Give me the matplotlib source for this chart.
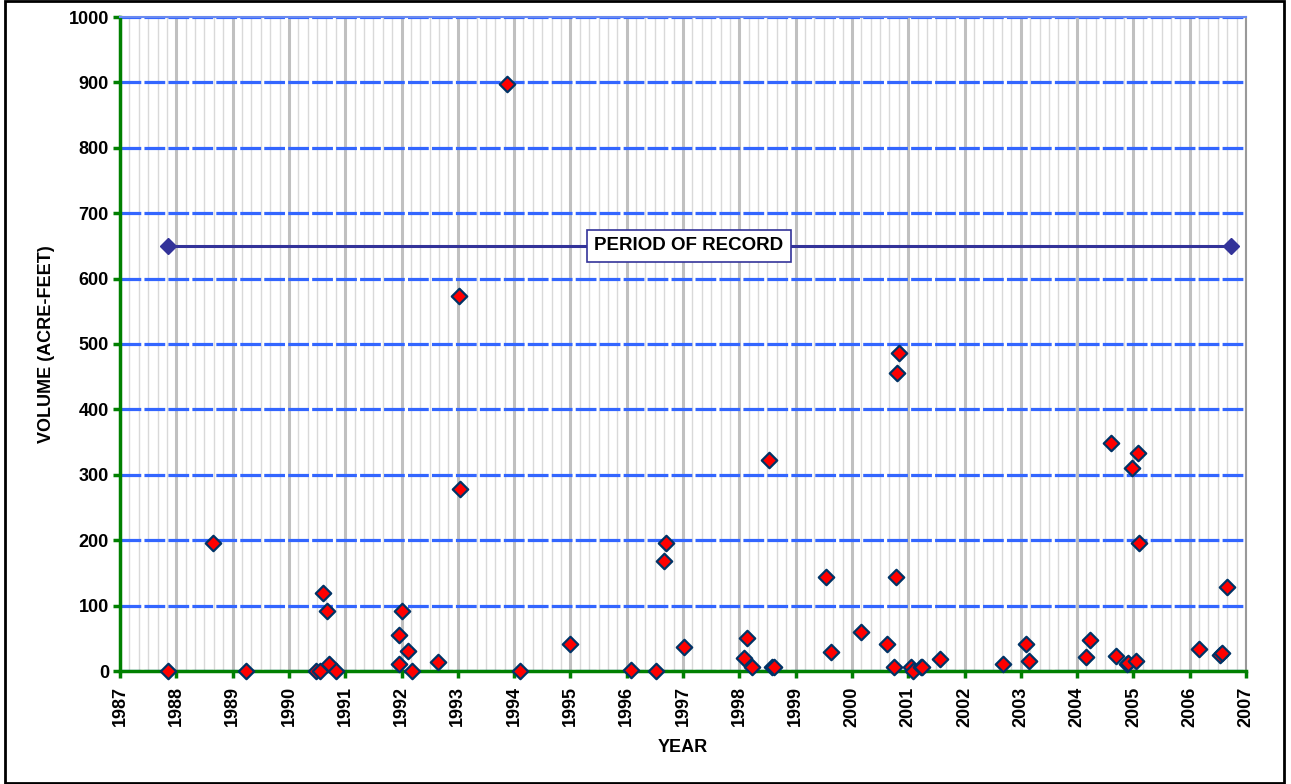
import matplotlib
matplotlib.use("Agg")
import matplotlib.pyplot as plt
from matplotlib.ticker import MultipleLocator
from matplotlib.patches import Rectangle
import numpy as np

plt.rcParams['font.family'] = ['Liberation Sans', 'DejaVu Sans']

# ---- data ----
years = [1987.85, 1988.66, 1989.24, 1990.49, 1990.56, 1990.61, 1990.67, 1990.72, 1990.84,
         1991.96, 1992.00, 1991.96, 1992.11, 1992.19, 1992.64, 1993.02, 1993.04, 1993.87,
         1994.10, 1995.00, 1996.08, 1996.52, 1996.66, 1996.70, 1997.02, 1998.09, 1998.14,
         1998.23, 1998.58, 1998.62, 1998.53, 1999.54, 1999.63, 2000.17, 2000.63, 2000.75,
         2000.79, 2000.80, 2000.83, 2001.05, 2001.09, 2001.22, 2001.25, 2001.56, 2002.68,
         2003.10, 2003.14, 2004.16, 2004.23, 2004.60, 2004.69, 2004.88, 2004.91, 2004.98,
         2005.05, 2005.09, 2005.10, 2006.16, 2006.53, 2006.58, 2006.67]
volumes = [0, 195, 0, 0, 0, 119, 92, 11, 0,
           55, 92, 11, 30, 0, 13, 573, 278, 898,
           0, 42, 2, 0, 168, 195, 36, 20, 50,
           6, 6, 6, 322, 143, 29, 59, 42, 6,
           143, 455, 487, 6, 0, 6, 6, 18, 11,
           42, 16, 21, 47, 349, 23, 10, 12, 310,
           16, 334, 196, 33, 25, 28, 129]

record_years = [1987.85, 2006.73]
record_values = [650, 650]
record_label = "PERIOD OF RECORD"

x_ticks = list(range(1987, 2008))
y_ticks = list(range(0, 1001, 100))

# ---- figure ----
fig = plt.figure(figsize=(12.91, 7.84), dpi=100)
ax = fig.add_axes([120/1291, 1 - 671/784, (1246-120)/1291, (671-17)/784])

green = '#008000'

ax.set_xlim(1987, 2007)
ax.set_ylim(0, 1000)
ax.set_xticks(x_ticks)
ax.set_yticks(y_ticks)
ax.xaxis.set_minor_locator(MultipleLocator(1/6))

# grids
ax.set_axisbelow(True)
ax.grid(which='minor', axis='x', color='#D9D9D9', linewidth=1.0)
ax.grid(which='major', axis='x', color='#C0C0C0', linewidth=2.2)
ax.grid(which='major', axis='y', color='#3366FF', linewidth=2.3, linestyle=(0, (6.5, 1.0)))

# spines
ax.spines['left'].set_color(green)
ax.spines['left'].set_linewidth(2.5)
ax.spines['bottom'].set_color(green)
ax.spines['bottom'].set_linewidth(2.5)
ax.spines['top'].set_color('#6A8AF0')
ax.spines['top'].set_linewidth(1.5)
ax.spines['right'].set_color('#999999')
ax.spines['right'].set_linewidth(1.5)

ax.tick_params(axis='both', which='major', color=green, width=2.5, length=5,
               direction='out', labelsize=13)
ax.tick_params(axis='x', which='minor', length=0)
ax.tick_params(axis='x', which='major', pad=6)
ax.tick_params(axis='y', which='major', pad=3)
for lab in ax.get_xticklabels():
    lab.set_rotation(90)
    lab.set_fontweight('bold')
for lab in ax.get_yticklabels():
    lab.set_fontweight('bold')

ax.set_xlabel('YEAR', fontsize=13, fontweight='bold', labelpad=9)
ax.set_ylabel('VOLUME (ACRE-FEET)', fontsize=13, fontweight='bold', labelpad=10)

# period of record
ax.plot(record_years, record_values, color='#333399', linewidth=2.2,
        marker='D', markersize=8, zorder=4, clip_on=False)
ax.text(1997.1, record_values[0], record_label, ha='center', va='center',
        fontsize=13.5, fontweight='bold', color='black', zorder=5,
        bbox=dict(boxstyle='square,pad=0.4', facecolor='white',
                  edgecolor='#333399', linewidth=1.2))

# data points
ax.scatter(years, volumes, marker='D', s=62, facecolor='#FF0000',
           edgecolor='#003366', linewidths=1.6, zorder=6, clip_on=False)

# figure border
fig.patches.append(Rectangle((5/1291, 1/784), 1279/1291, 782/784, transform=fig.transFigure,
                             fill=False, edgecolor='black', linewidth=2))

fig.savefig('out.png', dpi=100)
